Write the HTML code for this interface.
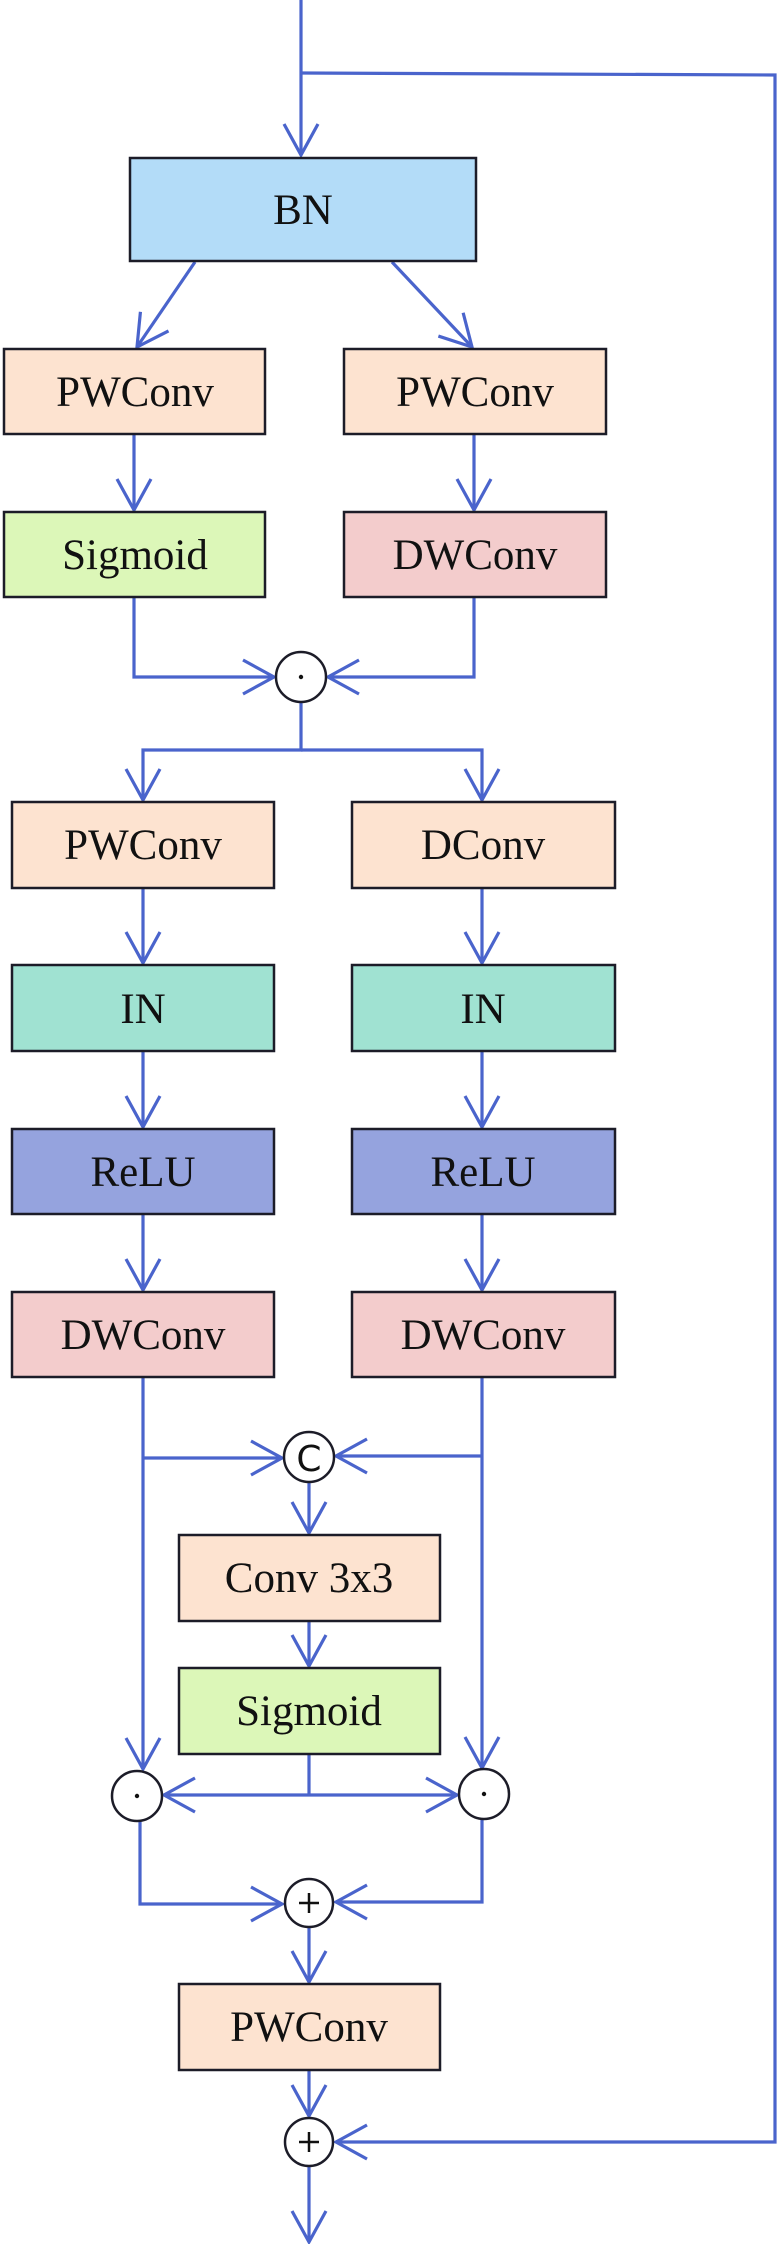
<!DOCTYPE html>
<html><head><meta charset="utf-8"><style>
html,body{margin:0;padding:0;background:#fff;}
svg{display:block;}
text{font-family:"Liberation Serif",serif;font-size:43px;fill:#111;text-anchor:middle;}
</style></head><body>
<svg width="782" height="2244" viewBox="0 0 782 2244" xmlns="http://www.w3.org/2000/svg">
<defs>
<marker id="a" markerUnits="userSpaceOnUse" markerWidth="40" markerHeight="40" viewBox="-34 -20 38 40" refX="0" refY="0" orient="auto">
<path d="M-31,-17 L0,0 L-31,17" fill="none" stroke="#4a64cc" stroke-width="3.2"/>
</marker>
</defs>
<g fill="none" stroke="#4a64cc" stroke-width="3.2">
<!-- top -->
<line x1="301" y1="0" x2="301" y2="155" marker-end="url(#a)"/>
<polyline points="301,73 775,75 775,2142 336,2142" marker-end="url(#a)"/>
<!-- BN diagonals -->
<line x1="195" y1="262" x2="137" y2="347" marker-end="url(#a)"/>
<line x1="392" y1="262" x2="472" y2="347" marker-end="url(#a)"/>
<line x1="134" y1="434" x2="134" y2="510" marker-end="url(#a)"/>
<line x1="474" y1="434" x2="474" y2="510" marker-end="url(#a)"/>
<polyline points="134,597 134,677 274,677" marker-end="url(#a)"/>
<polyline points="474,597 474,677 328,677" marker-end="url(#a)"/>
<polyline points="301,702 301,750 143,750 143,800" marker-end="url(#a)"/>
<polyline points="301,750 482,750 482,800" marker-end="url(#a)"/>
<line x1="143" y1="889" x2="143" y2="963" marker-end="url(#a)"/>
<line x1="482" y1="889" x2="482" y2="963" marker-end="url(#a)"/>
<line x1="143" y1="1052" x2="143" y2="1127" marker-end="url(#a)"/>
<line x1="482" y1="1052" x2="482" y2="1127" marker-end="url(#a)"/>
<line x1="143" y1="1215" x2="143" y2="1290" marker-end="url(#a)"/>
<line x1="482" y1="1215" x2="482" y2="1290" marker-end="url(#a)"/>
<!-- to C -->
<line x1="143" y1="1378" x2="143" y2="1769" marker-end="url(#a)"/>
<line x1="143" y1="1458" x2="282" y2="1458" marker-end="url(#a)"/>
<line x1="482" y1="1378" x2="482" y2="1768" marker-end="url(#a)"/>
<line x1="482" y1="1456" x2="336" y2="1456" marker-end="url(#a)"/>
<line x1="309" y1="1482" x2="309" y2="1533" marker-end="url(#a)"/>
<line x1="309" y1="1622" x2="309" y2="1666" marker-end="url(#a)"/>
<line x1="309" y1="1755" x2="309" y2="1795"/>
<line x1="309" y1="1795" x2="164" y2="1795" marker-end="url(#a)"/>
<line x1="309" y1="1795" x2="457" y2="1795" marker-end="url(#a)"/>
<polyline points="140,1821 140,1904 282,1904" marker-end="url(#a)"/>
<polyline points="482,1819 482,1902 336,1902" marker-end="url(#a)"/>
<line x1="309" y1="1928" x2="309" y2="1982" marker-end="url(#a)"/>
<line x1="309" y1="2071" x2="309" y2="2116" marker-end="url(#a)"/>
<line x1="309" y1="2167" x2="309" y2="2242" marker-end="url(#a)"/>
</g>
<g stroke="#1c1c28" stroke-width="2.5">
<rect x="130" y="158" width="346" height="103" fill="#b3dcf8"/>
<rect x="4" y="349" width="261" height="85" fill="#fde3d0"/>
<rect x="344" y="349" width="262" height="85" fill="#fde3d0"/>
<rect x="4" y="512" width="261" height="85" fill="#dcf7b8"/>
<rect x="344" y="512" width="262" height="85" fill="#f3cccc"/>
<rect x="12" y="802" width="262" height="86" fill="#fde3d0"/>
<rect x="352" y="802" width="263" height="86" fill="#fde3d0"/>
<rect x="12" y="965" width="262" height="86" fill="#a0e2d2"/>
<rect x="352" y="965" width="263" height="86" fill="#a0e2d2"/>
<rect x="12" y="1129" width="262" height="85" fill="#95a3de"/>
<rect x="352" y="1129" width="263" height="85" fill="#95a3de"/>
<rect x="12" y="1292" width="262" height="85" fill="#f3cccc"/>
<rect x="352" y="1292" width="263" height="85" fill="#f3cccc"/>
<rect x="179" y="1535" width="261" height="86" fill="#fde3d0"/>
<rect x="179" y="1668" width="261" height="86" fill="#dcf7b8"/>
<rect x="179" y="1984" width="261" height="86" fill="#fde3d0"/>
<circle cx="301" cy="677" r="25" fill="#fff"/>
<circle cx="309" cy="1457" r="25" fill="#fff"/>
<circle cx="137" cy="1796" r="25" fill="#fff"/>
<circle cx="484" cy="1794" r="25" fill="#fff"/>
<circle cx="309" cy="1903" r="24" fill="#fff"/>
<circle cx="309" cy="2142" r="24" fill="#fff"/>
</g>
<g fill="#111">
<circle cx="301" cy="677" r="2.2"/>
<circle cx="137" cy="1796" r="2.2"/>
<circle cx="484" cy="1794" r="2.2"/>
</g>
<g stroke="#111" stroke-width="2.5">
<line x1="299" y1="1903" x2="319" y2="1903"/><line x1="309" y1="1893" x2="309" y2="1913"/>
<line x1="299" y1="2142" x2="319" y2="2142"/><line x1="309" y1="2132" x2="309" y2="2152"/>
</g>
<text x="309" y="1471" style="font-family:'DejaVu Sans',sans-serif;font-size:36px">C</text>
<text x="303" y="224">BN</text>
<text x="135" y="406">PWConv</text>
<text x="475" y="406">PWConv</text>
<text x="135" y="569">Sigmoid</text>
<text x="475" y="569">DWConv</text>
<text x="143" y="859">PWConv</text>
<text x="483" y="859">DConv</text>
<text x="143" y="1023">IN</text>
<text x="483" y="1023">IN</text>
<text x="143" y="1186">ReLU</text>
<text x="483" y="1186">ReLU</text>
<text x="143" y="1349">DWConv</text>
<text x="483" y="1349">DWConv</text>
<text x="309" y="1592">Conv 3x3</text>
<text x="309" y="1725">Sigmoid</text>
<text x="309" y="2041">PWConv</text>
</svg>
</body></html>
